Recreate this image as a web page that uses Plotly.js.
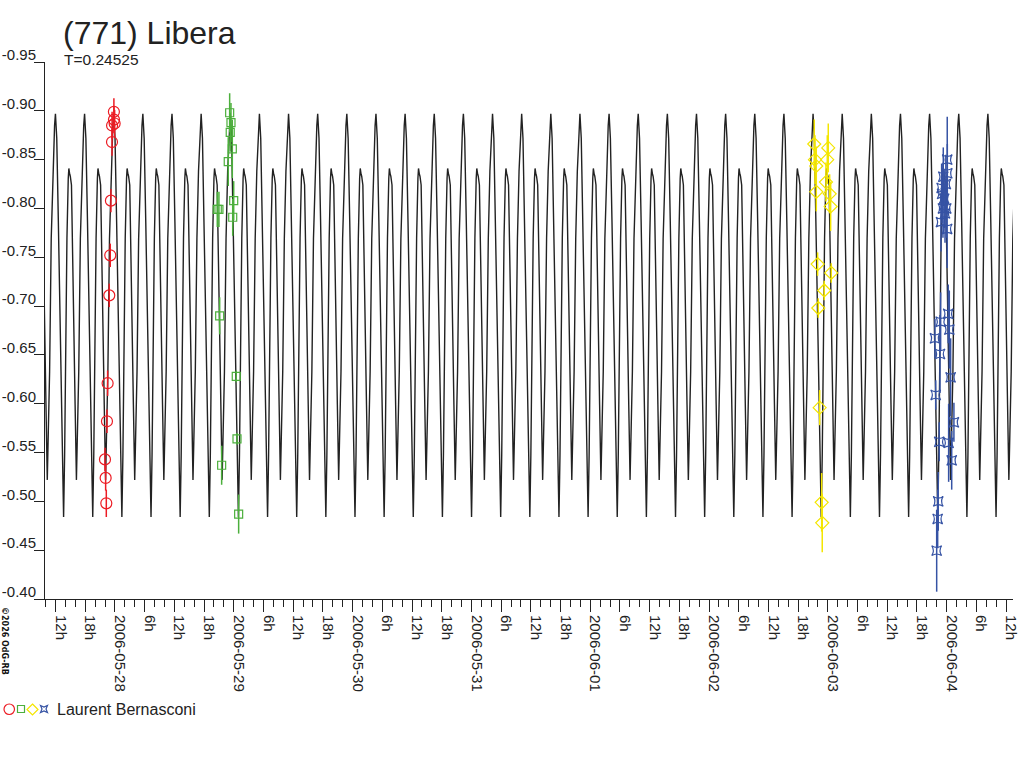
<!DOCTYPE html>
<html>
<head>
<meta charset="utf-8">
<script src="https://cdn.plot.ly/plotly-3.0.1.min.js"></script>
<style>html,body{margin:0;padding:0;background:#fff;}#chart{width:1024px;height:768px;}</style>
</head>
<body>
<div id="chart"></div>
<script>
// ---- model lightcurve: one period (phase from shallow minimum) ----
const periodDays = 0.24525;
const epochShallowMin = '2006-05-27 22:06';
const shapePhase = [0, 0.08, 0.135, 0.19, 0.25, 0.28, 0.325, 0.38, 0.44, 0.49, 0.54, 0.56, 0.595, 0.63, 0.675, 0.72, 0.74, 0.77, 0.79, 0.83, 0.865, 0.91, 0.955];
const shapeMag   = [-0.522, -0.633, -0.769, -0.838, -0.885, -0.897, -0.872, -0.786, -0.684, -0.582, -0.514, -0.484, -0.547, -0.667, -0.770, -0.831, -0.841, -0.835, -0.833, -0.824, -0.770, -0.684, -0.599];

// ---- observations (Laurent Bernasconi) ----
const redTime = ['2006-05-27 21:59','2006-05-27 22:07','2006-05-27 22:15','2006-05-27 22:23','2006-05-27 22:31','2006-05-27 22:51','2006-05-27 23:03','2006-05-27 23:11','2006-05-27 23:24','2006-05-27 23:25','2006-05-27 23:47','2006-05-27 23:48','2006-05-27 23:56'];
const redMag  = [-0.543,-0.524,-0.498,-0.582,-0.621,-0.711,-0.752,-0.808,-0.868,-0.885,-0.899,-0.891,-0.887];
const redErr  = [0.012,0.013,0.014,0.012,0.013,0.012,0.012,0.012,0.014,0.014,0.014,0.014,0.014];

const greenTime = ['2006-05-28 20:40','2006-05-28 21:00','2006-05-28 21:09','2006-05-28 21:33','2006-05-28 22:53','2006-05-28 23:10','2006-05-28 23:17','2006-05-28 23:26','2006-05-28 23:42','2006-05-28 23:47','2006-05-28 23:59','2006-05-29 00:30','2006-05-29 00:39','2006-05-29 00:59'];
const greenMag  = [-0.799,-0.799,-0.690,-0.537,-0.848,-0.898,-0.878,-0.888,-0.861,-0.791,-0.808,-0.628,-0.564,-0.487];
const greenErr  = [0.018,0.018,0.019,0.020,0.025,0.020,0.020,0.020,0.030,0.019,0.020,0.006,0.006,0.020];

const yellowTime = ['2006-06-02 21:15','2006-06-02 21:24','2006-06-02 21:39','2006-06-02 21:40','2006-06-02 21:56','2006-06-02 22:04','2006-06-02 22:21','2006-06-02 22:45','2006-06-02 22:52','2006-06-02 23:16','2006-06-02 23:37','2006-06-02 23:53','2006-06-03 00:05','2006-06-03 00:22','2006-06-03 00:34','2006-06-03 00:41'];
const yellowMag  = [-0.866,-0.850,-0.8435,-0.817,-0.743,-0.698,-0.596,-0.499,-0.478,-0.716,-0.827,-0.850,-0.862,-0.815,-0.802,-0.734];
const yellowErr  = [0.025,0.025,0.020,0.020,0.012,0.010,0.018,0.030,0.030,0.010,0.020,0.025,0.025,0.020,0.025,0.010];

const blueTime = ['2006-06-03 21:38','2006-06-03 21:47','2006-06-03 21:59','2006-06-03 22:11','2006-06-03 22:18','2006-06-03 22:30','2006-06-03 22:39','2006-06-03 22:47','2006-06-03 22:51','2006-06-03 22:59','2006-06-03 23:05','2006-06-03 23:15','2006-06-03 23:19','2006-06-03 23:30','2006-06-03 23:40','2006-06-03 23:50','2006-06-03 23:55','2006-06-04 00:06','2006-06-04 00:07','2006-06-04 00:08','2006-06-04 00:19','2006-06-04 00:24','2006-06-04 00:32','2006-06-04 00:48','2006-06-04 01:01','2006-06-04 01:28'];
const blueMag  = [-0.667,-0.609,-0.4495,-0.482,-0.500,-0.561,-0.651,-0.684,-0.786,-0.821,-0.815,-0.800,-0.8325,-0.810,-0.795,-0.825,-0.800,-0.779,-0.850,-0.836,-0.692,-0.560,-0.676,-0.627,-0.542,-0.581];
const blueErr  = [0.020,0.015,0.042,0.030,0.030,0.020,0.040,0.030,0.030,0.025,0.030,0.030,0.030,0.030,0.030,0.030,0.030,0.040,0.044,0.030,0.030,0.040,0.040,0.040,0.030,0.020];

const yTickVals = [-0.95,-0.90,-0.85,-0.80,-0.75,-0.70,-0.65,-0.60,-0.55,-0.50,-0.45,-0.40];
const yTickText = ['-0.95','-0.90','-0.85','-0.80','-0.75','-0.70','-0.65','-0.60','-0.55','-0.50','-0.45','-0.40'];

// ---- helpers ----
function parseUTC(s){const m=s.match(/(\d+)-(\d+)-(\d+)\s+(\d+):(\d+)/);return Date.UTC(+m[1],+m[2]-1,+m[3],+m[4],+m[5]);}
function fmt(ms){return new Date(ms).toISOString().slice(0,19).replace('T',' ');}
const DAY = 86400000;

// model curve tiled over the observed span
const curveX=[], curveY=[];
const ep = parseUTC(epochShallowMin);
for(let n=-4;n<=32;n++){
  for(let i=0;i<shapePhase.length;i++){
    curveX.push(fmt(ep + (n+shapePhase[i])*periodDays*DAY));
    curveY.push(shapeMag[i]);
  }
}

// x ticks every 6 h
const xTickVals=[], xTickText=[];
for(let ms=parseUTC('2006-05-27 12:00'); ms<=parseUTC('2006-06-04 12:00'); ms+=6*3600000){
  const d=new Date(ms); const h=d.getUTCHours();
  xTickVals.push(fmt(ms));
  xTickText.push(h===0 ? fmt(ms).slice(0,10) : h+'h');
}

const C = {red:'#ec1c24', green:'#4caf3c', yellow:'#f4e600', blue:'#3653a4', line:'#222222'};
function obs(x,y,e,color,symbol,size){
  return {x:x,y:y,type:'scatter',mode:'markers',showlegend:false,hoverinfo:'skip',
    marker:{symbol:symbol,size:size,color:color,line:{color:color,width:1.2}},
    error_y:{type:'data',array:e,visible:true,width:0,thickness:1.5,color:color}};
}

const traces=[
  {x:curveX,y:curveY,type:'scatter',mode:'lines',line:{color:C.line,width:1.4},showlegend:false,hoverinfo:'skip'},
  obs(redTime,redMag,redErr,C.red,'circle-open',11),
  obs(greenTime,greenMag,greenErr,C.green,'square-open',8),
  obs(yellowTime,yellowMag,yellowErr,C.yellow,'diamond-open',10),
  obs(blueTime,blueMag,blueErr,C.blue,'star-square-open',9)
];

// pixel -> paper helpers for legend/decoration
const L=45, R=11, T=62, B=169, W=1024, H=768;
const px=x=>(x-L)/(W-L-R), py=y=>(H-B-y)/(H-T-B);

const font='"Liberation Sans", Arial, sans-serif';
const layout={
  width:W,height:H,
  margin:{l:L,r:R,t:T,b:B,pad:0},
  paper_bgcolor:'#fff',plot_bgcolor:'#fff',
  font:{family:font,color:'#222',size:15},
  showlegend:false,
  xaxis:{type:'date',range:['2006-05-27 09:52','2006-06-04 13:24'],
    tickmode:'array',tickvals:xTickVals,ticktext:xTickText,tickangle:90,
    ticks:'outside',ticklen:12,tickwidth:1,tickcolor:'#222',
    minor:{ticks:'outside',dtick:2*3600000,tick0:'2006-05-27 00:00',ticklen:7,tickwidth:1,tickcolor:'#222',showgrid:false},
    showline:true,linecolor:'#222',linewidth:1,showgrid:false,zeroline:false,
    tickfont:{size:15,family:font,color:'#222'},ticklabelshift:5,fixedrange:true},
  yaxis:{range:[-0.40,-0.95],tickmode:'array',tickvals:yTickVals,ticktext:yTickText,
    ticks:'outside',ticklen:10,tickwidth:1,tickcolor:'#222',
    showline:true,linecolor:'#222',linewidth:1,showgrid:false,zeroline:false,
    tickfont:{size:15,family:font,color:'#222'},ticklabelshift:7,ticklabelstandoff:-5,fixedrange:true},
  title:{text:'(771) Libera',x:63/W,xref:'container',xanchor:'left',y:1-33/H,yref:'container',yanchor:'middle',
    font:{size:32,family:font,color:'#222'}},
  annotations:[
    {text:'T=0.24525',xref:'paper',yref:'paper',x:px(62),y:py(60),xanchor:'left',yanchor:'middle',showarrow:false,
     font:{size:15.5,family:font,color:'#222'}},
    {text:'Laurent Bernasconi',xref:'paper',yref:'paper',x:px(55),y:py(709),xanchor:'left',yanchor:'middle',showarrow:false,
     font:{size:16,family:font,color:'#222'}},
    {text:'<b>©2026 OdG-RB</b>',xref:'paper',yref:'paper',x:px(5),y:py(641),xanchor:'center',yanchor:'middle',textangle:90,showarrow:false,
     font:{size:8,family:'"DejaVu Sans", sans-serif',color:'#111'}}
  ],
  shapes:[
    {type:'circle',xref:'paper',yref:'paper',x0:px(4),x1:px(14.5),y0:py(714.5),y1:py(704),line:{color:C.red,width:1.2}},
    {type:'rect',xref:'paper',yref:'paper',x0:px(17.5),x1:px(24.5),y0:py(712.5),y1:py(705.5),line:{color:C.green,width:1.2}},
    {type:'path',xref:'paper',yref:'paper',
     path:'M '+px(32.5)+' '+py(704)+' L '+px(38)+' '+py(709.5)+' L '+px(32.5)+' '+py(715)+' L '+px(27)+' '+py(709.5)+' Z',
     line:{color:C.yellow,width:1.2}},
    {type:'path',xref:'paper',yref:'paper',
     path:'M '+px(40.5)+' '+py(705.5)+' L '+px(44)+' '+py(707)+' L '+px(47.5)+' '+py(705.5)+' L '+px(46)+' '+py(709)+' L '+px(47.5)+' '+py(712.5)+' L '+px(44)+' '+py(711)+' L '+px(40.5)+' '+py(712.5)+' L '+px(42)+' '+py(709)+' Z',
     line:{color:C.blue,width:1.2}}
  ]
};

Plotly.newPlot('chart',traces,layout,{displayModeBar:false,staticPlot:true});
</script>
</body>
</html>
